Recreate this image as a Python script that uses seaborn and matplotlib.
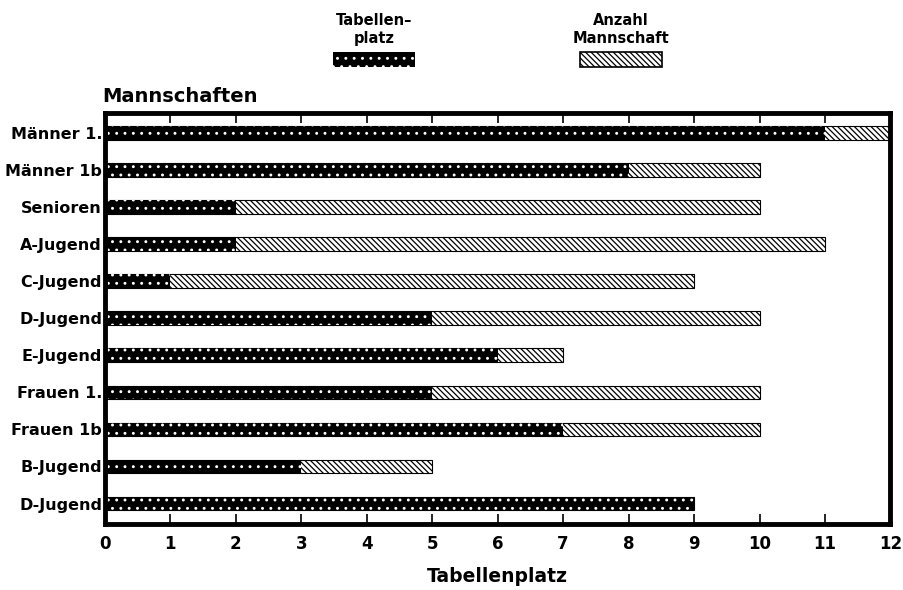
import pandas as pd
import seaborn as sns
import matplotlib.pyplot as plt
from matplotlib.patches import Rectangle

# Daten
teams = ['Männer 1.', 'Männer 1b', 'Senioren', 'A-Jugend', 'C-Jugend', 'D-Jugend',
         'E-Jugend', 'Frauen 1.', 'Frauen 1b', 'B-Jugend', 'D-Jugend']
tabellenplatz = [11, 8, 2, 2, 1, 5, 6, 5, 7, 3, 9]
anzahl = [12, 10, 10, 11, 9, 10, 7, 10, 10, 5, 9]

# Zeilen-Index als Kategorie (D-Jugend kommt zweimal vor)
df = pd.DataFrame({'row': [str(i) for i in range(len(teams))],
                   'team': teams,
                   'platz': tabellenplatz,
                   'anzahl': anzahl})

sns.set_style('white')
plt.rcParams['font.family'] = ['DejaVu Sans']
plt.rcParams['font.weight'] = 'bold'
plt.rcParams['hatch.linewidth'] = 0.9
for k in ['text.color', 'axes.labelcolor', 'xtick.color', 'ytick.color']:
    plt.rcParams[k] = 'black'

fig = plt.figure(figsize=(9.04, 5.90), dpi=100)
ax = fig.add_axes([0.116, 0.112, 0.869, 0.697])

order = list(df['row'])
bw = 0.37
stripes = '\\' * 6

# Anzahl Mannschaft (schraffiert, hinten)
sns.barplot(data=df, x='anzahl', y='row', order=order, orient='h', width=bw,
            color='white', ax=ax)
for p in ax.patches:
    p.set_hatch(stripes)
    p.set_edgecolor('black')
    p.set_linewidth(0.8)
n_back = len(ax.patches)

# Tabellenplatz (schwarz mit Punkten)
sns.barplot(data=df, x='platz', y='row', order=order, orient='h', width=bw,
            color='black', ax=ax)
for p in ax.patches[n_back:]:
    p.set_facecolor('black')
    p.set_hatch('..')
    p.set_edgecolor('white')
    p.set_linewidth(0)

ax.set_xlim(0, 12)
ax.set_ylim(10.55, -0.55)
ax.set_xticks(range(0, 13))
ax.set_yticks(range(len(teams)))
ax.set_yticklabels(teams, fontsize=11.5, fontweight='bold')
ax.tick_params(axis='x', labelsize=12, direction='in', length=7, width=1.2,
               top=True, bottom=True, pad=8)
ax.tick_params(axis='y', length=0, pad=2)
for lab in ax.get_xticklabels():
    lab.set_fontweight('bold')
for s in ax.spines.values():
    s.set_linewidth(3.5)
    s.set_color('black')

ax.set_ylabel('')
ax.set_xlabel('Tabellenplatz', fontsize=13.5, fontweight='bold', labelpad=10)
ax.text(-0.003, 1.017, 'Mannschaften', transform=ax.transAxes, fontsize=14,
        fontweight='bold', ha='left', va='bottom')

# Legende oben
W, H = 904, 590
leg = [('Tabellen–\nplatz', 333, 'black', 'white', '..'),
       ('Anzahl\nMannschaft', 580, 'white', 'black', stripes)]
for text, x0, fc, ec, hatch in leg:
    r = Rectangle((x0 / W, 1 - 67 / H), 82 / W, 15 / H, transform=fig.transFigure,
                  facecolor=fc, edgecolor=ec, hatch=hatch, linewidth=0)
    fig.add_artist(r)
    if fc == 'white':
        fig.add_artist(Rectangle((x0 / W, 1 - 67 / H), 82 / W, 15 / H,
                                 transform=fig.transFigure, fill=False,
                                 edgecolor='black', linewidth=1.2))
    fig.text((x0 + 41) / W, 1 - 46 / H, text, ha='center', va='bottom',
             fontsize=10.5, fontweight='bold', linespacing=1.25)

fig.savefig('out.png', dpi=100)
